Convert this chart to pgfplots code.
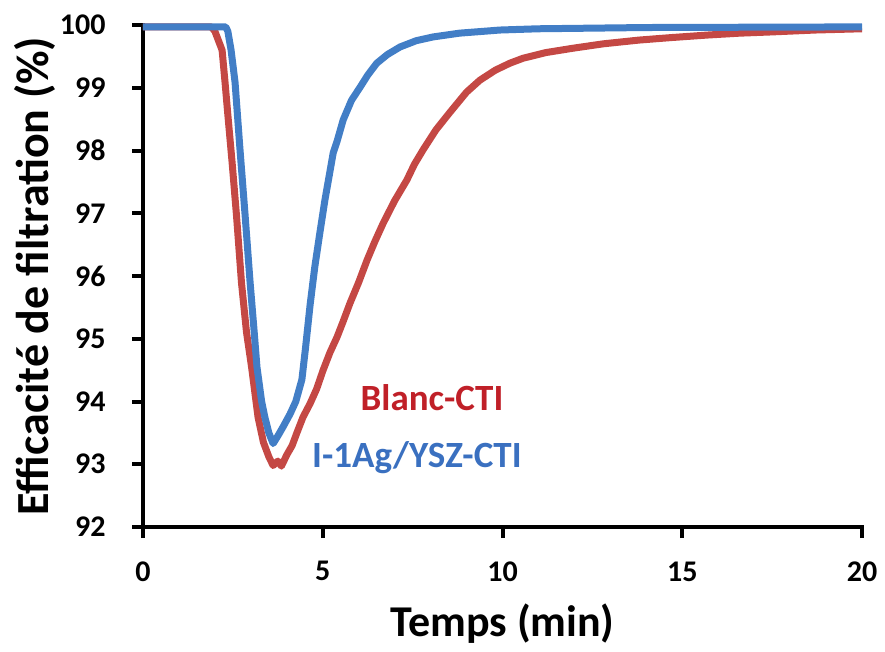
\documentclass[border=0pt]{standalone}
\usepackage{fontspec}
\setmainfont{Carlito}
\usepackage{pgfplots}
\pgfplotsset{compat=1.18}
\definecolor{cred}{RGB}{196,72,68}
\definecolor{cblue}{RGB}{66,126,198}
\definecolor{tred}{RGB}{192,32,40}
\definecolor{tblue}{RGB}{58,112,192}
\begin{document}
\begin{tikzpicture}
\useasboundingbox (-143pt,-124pt) rectangle (742pt,527pt);
\begin{axis}[
  at={(0,0)}, anchor=south west,
  scale only axis, width=719pt, height=502pt,
  xmin=0, xmax=20, ymin=92, ymax=100,
  xtick={0,5,10,15,20}, ytick={92,93,94,95,96,97,98,99,100},
  axis x line=bottom, axis y line=left,
  axis line style={-, line width=4pt, line cap=rect},
  tick align=outside, major tick length=11pt,
  every tick/.style={black, line width=4pt},
  minor tick num=0,
  /pgf/number format/assume math mode=true,
  ticklabel style={font=\fontsize{30}{30}\selectfont\bfseries},
  xticklabel style={yshift=-20pt},
  yticklabel style={xshift=-23pt},
  xlabel={Temps (min)},
  ylabel={Efficacité de filtration (\%)},
  xlabel style={font=\fontsize{44}{44}\selectfont\bfseries, at={(axis description cs:0.5,-0.193)}, anchor=center},
  ylabel style={font=\fontsize{46}{46}\selectfont\bfseries, at={(axis description cs:-0.150,0.5)}, anchor=center},
  clip=false,
]
\addplot[color=cred, line width=7pt, line join=round] coordinates {
(0,99.97) (1,99.97) (1.9,99.97) (2.0,99.9) (2.1,99.75) (2.2,99.6) (2.28,99.1)
(2.36,98.57) (2.48,97.8) (2.6,96.97) (2.74,95.89) (2.88,95.1) (3.02,94.55)
(3.2,93.75) (3.35,93.35) (3.5,93.12) (3.62,92.98) (3.75,93.05) (3.85,92.97)
(4.0,93.15) (4.15,93.3) (4.28,93.5) (4.45,93.75) (4.65,93.97) (4.83,94.2)
(5.01,94.5) (5.2,94.78) (5.40,95.03) (5.57,95.28) (5.76,95.57) (6.0,95.9)
(6.23,96.25) (6.45,96.55) (6.68,96.84) (7.0,97.2) (7.34,97.53) (7.55,97.78)
(7.79,98.01) (8.15,98.33) (8.54,98.61) (9.0,98.93) (9.37,99.12) (9.8,99.28)
(10.2,99.39) (10.57,99.47) (11.2,99.56) (11.96,99.63) (12.8,99.7) (13.8,99.76) (14.7,99.80)
(15.7,99.84) (16.6,99.87) (17.5,99.89) (18.7,99.92) (20,99.94)
};
\addplot[color=cblue, line width=7pt, line join=round] coordinates {
(0,99.97) (1,99.97) (2,99.97) (2.3,99.97) (2.36,99.9) (2.45,99.6) (2.56,99.09)
(2.7,98.0) (2.84,96.97) (2.98,95.89) (3.08,95.2) (3.17,94.55) (3.3,94.0)
(3.39,93.75) (3.5,93.5) (3.62,93.33) (3.75,93.45) (3.9,93.6) (4.09,93.8)
(4.25,94.0) (4.42,94.35) (4.52,94.85) (4.65,95.55) (4.78,96.15) (4.92,96.69)
(5.06,97.21) (5.18,97.6) (5.29,97.96) (5.4,98.15) (5.57,98.49)
(5.8,98.8) (6.04,99.01) (6.25,99.2) (6.5,99.39) (6.8,99.53) (7.15,99.65)
(7.6,99.75) (8.07,99.81) (8.8,99.87) (9.93,99.92) (11,99.94) (12.5,99.95)
(14,99.96) (20,99.97)
};
\node[font=\fontsize{37}{37}\selectfont\bfseries, text=tred] at (axis cs:8.04,94.06) {Blanc-CTI};
\node[font=\fontsize{37}{37}\selectfont\bfseries, text=tblue] at (axis cs:7.62,93.10) {I-1Ag/YSZ-CTI};
\end{axis}
\end{tikzpicture}
\end{document}
